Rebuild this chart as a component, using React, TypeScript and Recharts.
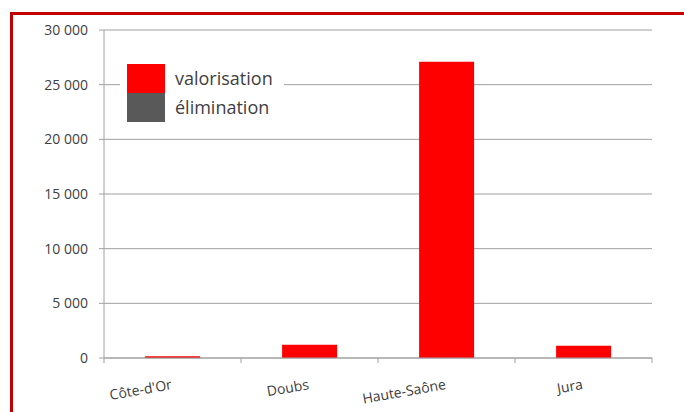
import React from "react";
import { BarChart, Bar, XAxis, YAxis, CartesianGrid, Legend } from "recharts";

const DEPARTMENTS = ["Côte-d'Or", "Doubs", "Haute-Saône", "Jura"];
const VALORISATION = [150, 1220, 27100, 1120];
const ELIMINATION = [0, 0, 0, 0];
const Y_TICKS = [0, 5000, 10000, 15000, 20000, 25000, 30000];

const W = 684;
const H = 412;
const MARGIN = { top: 30, right: 32, left: 0, bottom: 4 };
const Y_AXIS_W = 104;
const BAND = (W - MARGIN.left - MARGIN.right - Y_AXIS_W) / DEPARTMENTS.length;

const AXIS_GRAY = "#A0A0A0";
const TEXT = "#404040";
const FONT = "'Open Sans', sans-serif";

const data = DEPARTMENTS.map((name, i) => ({
  name,
  valorisation: VALORISATION[i],
  elimination: ELIMINATION[i],
}));

const fmt = (v: number) => String(v).replace(/\B(?=(\d{3})+(?!\d))/g, " ");

function XTick(props: any) {
  const { x, y, payload, index, visibleTicksCount } = props;
  const axisY = y - 5;
  const half = BAND / 2;
  const last = index === visibleTicksCount - 1;
  return (
    <g>
      <line x1={x - half} y1={axisY} x2={x - half} y2={axisY + 5} stroke={AXIS_GRAY} />
      {last && (
        <line x1={x + half} y1={axisY} x2={x + half} y2={axisY + 5} stroke={AXIS_GRAY} />
      )}
      <text
        x={x}
        y={axisY + 31}
        textAnchor="end"
        transform={`rotate(-10, ${x}, ${axisY + 31})`}
        fontSize={14}
        fontFamily={FONT}
        fill={TEXT}
      >
        {payload.value}
      </text>
    </g>
  );
}

function LegendBox(props: any) {
  const { payload } = props;
  return (
    <div style={{ background: "#fff", padding: "4px 0 4px 7px" }}>
      {payload.map((p: any) => (
        <div key={p.value} style={{ display: "flex", alignItems: "center", height: 29 }}>
          <div style={{ width: 38, height: 29, background: p.color }} />
          <span
            style={{
              marginLeft: 10,
              fontFamily: FONT,
              fontSize: 18,
              color: TEXT,
              lineHeight: "29px",
            }}
          >
            {p.value}
          </span>
        </div>
      ))}
    </div>
  );
}

export default function App() {
  return (
    <div
      style={{
        position: "absolute",
        left: 0,
        top: 0,
        width: W,
        height: H,
        background: "#fff",
        overflow: "hidden",
      }}
    >
      <BarChart width={W} height={H} data={data} margin={MARGIN} barCategoryGap="30%">
        <CartesianGrid vertical={false} stroke={AXIS_GRAY} />
        <XAxis
          dataKey="name"
          height={50}
          tickLine={false}
          tickSize={5}
          tickMargin={0}
          axisLine={{ stroke: AXIS_GRAY }}
          tick={<XTick />}
          interval={0}
        />
        <YAxis
          width={Y_AXIS_W}
          domain={[0, 30000]}
          ticks={Y_TICKS}
          tickFormatter={fmt}
          tickSize={5}
          tickMargin={11}
          axisLine={{ stroke: AXIS_GRAY }}
          tickLine={{ stroke: AXIS_GRAY }}
          tick={{ fontSize: 14, fontFamily: FONT, fill: TEXT }}
          interval={0}
        />
        <Legend
          layout="vertical"
          align="center"
          verticalAlign="middle"
          content={<LegendBox />}
          wrapperStyle={{ left: 120, top: 60, width: 164 }}
        />
        <Bar
          dataKey="valorisation"
          name="valorisation"
          stackId="a"
          fill="#FF0000"
          isAnimationActive={false}
        />
        <Bar
          dataKey="elimination"
          name="élimination"
          stackId="a"
          fill="#595959"
          isAnimationActive={false}
        />
      </BarChart>
      <div
        style={{
          position: "absolute",
          left: 10,
          top: 12,
          width: W - 10,
          height: 3,
          background: "#C00000",
        }}
      />
      <div
        style={{
          position: "absolute",
          left: 10,
          top: 12,
          width: 3,
          height: H - 12,
          background: "#C00000",
        }}
      />
    </div>
  );
}
